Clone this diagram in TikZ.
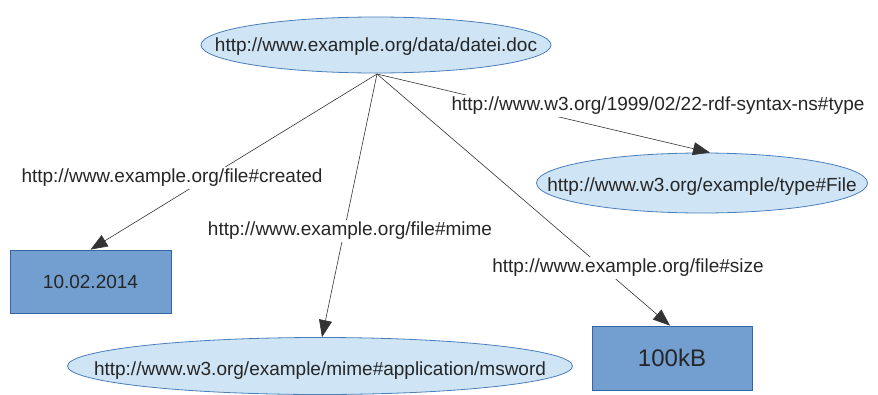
\documentclass[tikz,border=0pt]{standalone}
\usepackage{fontspec}
\setmainfont{Liberation Sans}
\usetikzlibrary{shapes.geometric,arrows.meta}
\definecolor{ellfill}{HTML}{CFE4F4}
\definecolor{elldraw}{HTML}{4A7EBB}
\definecolor{boxfill}{HTML}{729FCF}
\definecolor{boxdraw}{HTML}{3465A4}
\definecolor{edgecol}{HTML}{333333}
\newcommand{\zw}[2][-6.5pt]{\raisebox{#1}[0pt][0pt]{\makebox[0pt]{#2}}}
\tikzset{
  res/.style={ellipse, draw=elldraw, fill=ellfill, line width=0.8pt, inner sep=0pt,
    font=\fontsize{19}{22}\selectfont, text=black!85},
  lit/.style={rectangle, draw=boxdraw, fill=boxfill, line width=0.8pt, inner sep=0pt,
    text=black!85},
  prop/.style={fill=white, inner sep=2pt, font=\fontsize{19}{22}\selectfont, text=black!85},
  rel/.style={draw=edgecol, line width=0.6pt, -{Triangle[length=17pt,width=13pt]}}
}
\begin{document}
\begin{tikzpicture}[x=1pt,y=-1pt]
\useasboundingbox (0,0) rectangle (878,394);
\node[res, minimum width=350, minimum height=56] (doc) at (376,45) {\zw{http://www.example.org/data/datei.doc}};
\node[res, minimum width=331, minimum height=60] (type) at (702,183) {\zw[-8pt]{http://www.w3.org/example/type\#File}};
\node[res, minimum width=505, minimum height=57] (mime) at (320,366) {\zw[-9pt]{http://www.w3.org/example/mime\#application/msword}};
\node[lit, minimum width=161, minimum height=63, font=\fontsize{19}{22}\selectfont] (date) at (90.5,281.5) {10.02.2014};
\node[lit, minimum width=160, minimum height=64, font=\fontsize{24}{28}\selectfont] (size) at (672,358) {100kB};
\coordinate (src) at (377,74);
\draw[rel] (src) -- ([xshift=8pt]type.north);
\draw[rel] (src) -- (date.north);
\draw[rel] (src) -- ([xshift=2pt]mime.north);
\draw[rel] (src) -- ([xshift=-2pt]size.north);
\node[prop] (ltype) at (658,106) {http://www.w3.org/1999/02/22-rdf-syntax-ns\#type};
\node[prop] (lcreated) at (172,178) {http://www.example.org/file\#created};
\node[prop] (lmime) at (350,231) {http://www.example.org/file\#mime};
\node[prop] (lsize) at (628,268) {http://www.example.org/file\#size};
\end{tikzpicture}
\end{document}
